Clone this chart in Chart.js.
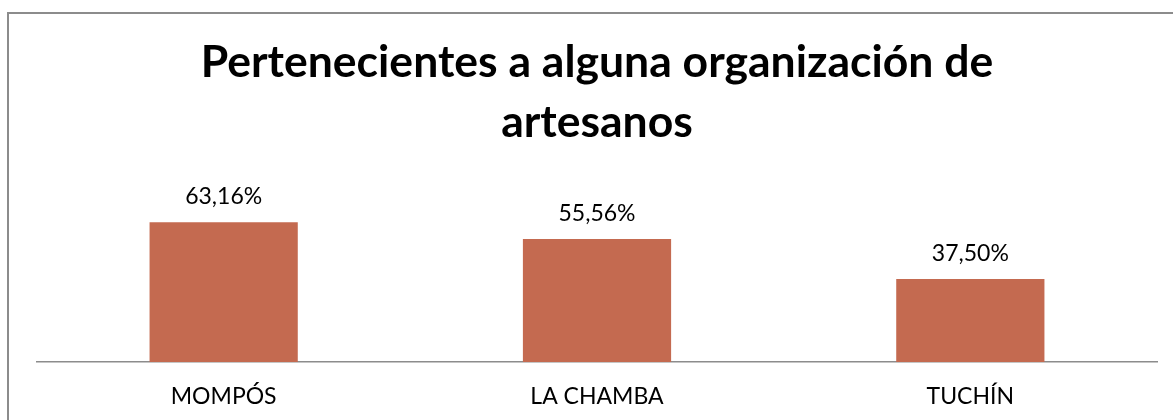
<!DOCTYPE html>
<html lang="es">
<head>
    <meta charset="UTF-8">
    <title>Pertenecientes a alguna organización de artesanos</title>
    <script src="https://cdn.jsdelivr.net/npm/chart.js"></script>
    <style>
        html, body {
            margin: 0;
            padding: 0;
            background: #ffffff;
            overflow: hidden;
        }
        .marco {
            position: absolute;
            left: 7px;
            top: 12px;
            width: 1300px;
            height: 500px;
            border: 2px solid #8c8c8c;
        }
        .lienzo {
            position: absolute;
            left: 0;
            top: 0;
            width: 1173px;
            height: 420px;
        }
    </style>
</head>
<body>
    <div class="marco"></div>
    <div class="lienzo">
        <canvas id="grafico" width="1173" height="420"></canvas>
    </div>

    <script>
        // Datos del gráfico
        const municipios = ['MOMPÓS', 'LA CHAMBA', 'TUCHÍN'];
        const porcentajes = [63.16, 55.56, 37.50];
        const tituloLineas = ['Pertenecientes a alguna organización de', 'artesanos'];

        const fuente = 'Lato, "Open Sans", sans-serif';

        // Formato de porcentaje con coma decimal
        const formatoPct = (v) => v.toFixed(2).replace('.', ',') + '%';

        // Etiquetas de valor sobre cada barra
        const etiquetasValor = {
            id: 'etiquetasValor',
            afterDatasetsDraw(chart) {
                const ctx = chart.ctx;
                const meta = chart.getDatasetMeta(0);
                ctx.save();
                ctx.font = '23px ' + fuente;
                ctx.fillStyle = '#000000';
                ctx.textAlign = 'center';
                ctx.textBaseline = 'alphabetic';
                meta.data.forEach((bar, i) => {
                    ctx.fillText(formatoPct(porcentajes[i]), bar.x, bar.y - 18);
                });
                ctx.restore();
            }
        };

        const ctx = document.getElementById('grafico').getContext('2d');
        new Chart(ctx, {
            type: 'bar',
            data: {
                labels: municipios,
                datasets: [{
                    data: porcentajes,
                    backgroundColor: '#c46a50',
                    borderWidth: 0,
                    barPercentage: 0.397,
                    categoryPercentage: 1.0
                }]
            },
            options: {
                responsive: false,
                animation: false,
                layout: {
                    padding: { left: 37, right: 16, top: 0, bottom: 0 }
                },
                plugins: {
                    legend: { display: false },
                    tooltip: { enabled: false },
                    title: {
                        display: true,
                        text: tituloLineas,
                        color: '#000000',
                        font: { family: fuente, size: 44.5, weight: 'bold', lineHeight: 60 / 44.5 },
                        padding: { top: 33, bottom: 54 }
                    }
                },
                scales: {
                    x: {
                        grid: { display: false, drawTicks: false },
                        border: { display: true, color: '#8c8c8c', width: 1.5 },
                        ticks: {
                            color: '#000000',
                            padding: 21,
                            font: { family: fuente, size: 23 }
                        },
                        afterFit(scale) {
                            scale.height = 58;
                        }
                    },
                    y: {
                        display: false,
                        min: 0,
                        max: 70
                    }
                }
            },
            plugins: [etiquetasValor]
        });
    </script>
</body>
</html>
